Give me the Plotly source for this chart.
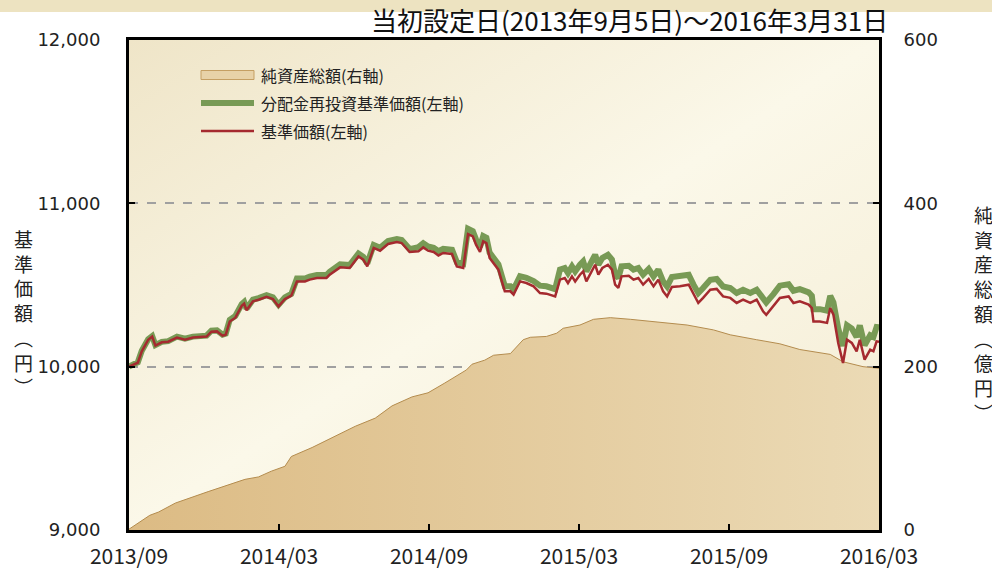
import base64
import pandas as pd
import plotly.graph_objects as go

# ---------------- data ----------------
nav_dates = [
    "2013-09-05","2013-09-16","2013-09-21","2013-09-29","2013-10-04","2013-10-08","2013-10-16","2013-10-24",
    "2013-11-04","2013-11-14","2013-11-24","2013-12-11","2013-12-17","2013-12-24","2013-12-31","2014-01-04",
    "2014-01-09","2014-01-16","2014-01-24","2014-01-27","2014-01-30","2014-02-07","2014-02-14","2014-02-24",
    "2014-03-04","2014-03-11","2014-03-19","2014-03-27","2014-04-03","2014-04-13","2014-04-19","2014-04-28",
    "2014-05-10","2014-05-14","2014-05-27","2014-06-08","2014-06-19","2014-06-25","2014-06-30","2014-07-08",
    "2014-07-16","2014-07-26","2014-08-06","2014-08-12","2014-08-22","2014-09-02","2014-09-08","2014-09-14",
    "2014-09-21","2014-09-27","2014-10-03","2014-10-14","2014-10-20","2014-10-28","2014-11-03","2014-11-09",
    "2014-11-13","2014-11-18","2014-11-22","2014-11-26","2014-11-30","2014-12-11","2014-12-19","2014-12-26",
    "2014-12-30","2015-01-07","2015-01-15","2015-01-24","2015-02-01","2015-02-09","2015-02-20","2015-02-26",
    "2015-03-04","2015-03-08","2015-03-13","2015-03-17","2015-03-23","2015-03-27","2015-03-31","2015-04-11",
    "2015-04-15","2015-04-20","2015-04-27","2015-05-02","2015-05-06","2015-05-10","2015-05-14","2015-05-23",
    "2015-05-29","2015-06-04","2015-06-10","2015-06-17","2015-06-23","2015-06-29","2015-07-05","2015-07-10",
    "2015-07-16","2015-07-26","2015-08-06","2015-08-12","2015-08-18","2015-08-24","2015-09-02","2015-09-10",
    "2015-09-18","2015-09-27","2015-10-05","2015-10-13","2015-10-22","2015-10-30","2015-11-07","2015-11-11",
    "2015-11-20","2015-11-28","2015-12-09","2015-12-15","2015-12-23","2016-01-03","2016-01-07","2016-01-09",
    "2016-01-17","2016-01-26","2016-01-30","2016-02-03","2016-02-09","2016-02-15","2016-02-20","2016-02-26",
    "2016-03-03","2016-03-07","2016-03-13","2016-03-20","2016-03-24","2016-03-28","2016-03-31",
]

# 基準価額 (left axis, yen)
nav_values = [
    10000,10024,10094,10165,10184,10129,10149,10153,10178,10165,10178,10184,10214,10216,10190,10196,
    10277,10300,10373,10386,10345,10400,10410,10427,10414,10369,10414,10435,10522,10522,10533,10543,
    10543,10563,10608,10604,10675,10655,10614,10727,10710,10751,10763,10757,10702,10706,10730,10710,
    10702,10681,10696,10690,10614,10604,10812,10798,10747,10702,10767,10757,10666,10594,10461,10461,
    10441,10522,10512,10492,10451,10447,10430,10533,10543,10512,10553,10522,10563,10583,10522,10624,
    10563,10604,10624,10594,10502,10482,10553,10557,10533,10543,10502,10537,10492,10533,10461,10430,
    10488,10492,10502,10441,10390,10421,10471,10476,10430,10421,10390,10410,10390,10410,10339,10318,
    10369,10421,10430,10390,10400,10380,10359,10277,10277,10268,10359,10318,10145,10022,10165,10145,
    10094,10165,10043,10104,10094,10155,10153,
]

# 分配金再投資基準価額 (left axis, yen)
reinvest_values = [
    10000,10027,10097,10168,10187,10132,10152,10156,10184,10171,10184,10190,10220,10222,10196,10202,
    10287,10310,10383,10396,10355,10410,10420,10437,10424,10379,10424,10445,10540,10540,10551,10561,
    10561,10581,10626,10622,10693,10673,10632,10745,10728,10769,10781,10775,10720,10732,10756,10736,
    10728,10707,10722,10716,10640,10630,10844,10830,10779,10734,10799,10789,10698,10626,10493,10493,
    10473,10554,10544,10524,10496,10492,10475,10594,10604,10573,10614,10583,10624,10644,10583,10685,
    10624,10665,10685,10655,10563,10543,10614,10618,10594,10604,10563,10598,10553,10594,10522,10491,
    10549,10553,10563,10502,10451,10482,10532,10537,10491,10482,10451,10471,10451,10471,10414,10393,
    10444,10496,10505,10465,10475,10455,10434,10352,10352,10343,10434,10393,10233,10127,10253,10233,
    10182,10253,10131,10192,10182,10243,10241,
]

# 純資産総額 (right axis, 億円)
asset_dates = [
    "2013-09-05","2013-10-01","2013-10-12","2013-11-02","2013-12-13","2014-01-11","2014-01-28","2014-02-14",
    "2014-03-02","2014-03-19","2014-03-27","2014-04-22","2014-05-17","2014-06-15","2014-07-10","2014-07-31",
    "2014-08-25","2014-09-14","2014-10-05","2014-11-01","2014-11-08","2014-11-24","2014-12-05","2014-12-26",
    "2015-01-11","2015-01-20","2015-02-09","2015-02-22","2015-03-02","2015-03-23","2015-04-09","2015-04-30",
    "2015-05-25","2015-06-23","2015-08-04","2015-09-06","2015-09-27","2015-10-30","2015-11-28","2015-12-23",
    "2016-01-30","2016-02-15","2016-03-11","2016-03-31",
]
asset_values = [
    1,18,22,33,47,56,62,65,
    72,78,90,101,113,127,137,152,
    163,168,180,196,203,208,214,216,
    233,236,237,241,247,251,258,260,
    258,255,251,245,239,233,228,221,
    215,206,200,198,
]

x_tick_labels = ["2013/09", "2014/03", "2014/09", "2015/03", "2015/09", "2016/03"]
left_ticks = [9000, 10000, 11000, 12000]
right_ticks = [0, 200, 400, 600]

series_names = ["純資産総額(右軸)", "分配金再投資基準価額(左軸)", "基準価額(左軸)"]
title_text = "当初設定日(2013年9月5日)～2016年3月31日"
left_title_chars = ["基", "準", "価", "額", "︵", "円", "︶"]
right_title_chars = ["純", "資", "産", "総", "額", "︵", "億", "円", "︶"]

assert len(nav_dates) == len(nav_values) == len(reinvest_values)
assert len(asset_dates) == len(asset_values)

# ---------------- layout geometry (px) ----------------
W, H = 992, 570
ML, MR, MT, MB = 129, 113, 40, 40
PW, PH = W - ML - MR, H - MT - MB


def px_x(x):
    return (x - ML) / PW


def px_y(y):
    return (H - MB - y) / PH


CJK = "Noto Sans CJK JP, Noto Sans, sans-serif"
AREA_LINE = "#b48c4e"
GREEN = "#789a55"
RED = "#a52a2f"

fig = go.Figure()

fig.add_trace(go.Scatter(
    x=asset_dates, y=asset_values, yaxis="y", mode="lines", name=series_names[0],
    fill="tozeroy",
    fillgradient=dict(type="horizontal", colorscale=[[0, "#dcbb84"], [1, "#ebdab5"]]),
    line=dict(color=AREA_LINE, width=1), hoverinfo="skip", showlegend=False,
))
fig.add_trace(go.Scatter(
    x=nav_dates, y=reinvest_values, yaxis="y2", mode="lines", name=series_names[1],
    line=dict(color=GREEN, width=6), showlegend=False,
))
fig.add_trace(go.Scatter(
    x=nav_dates, y=nav_values, yaxis="y2", mode="lines", name=series_names[2],
    line=dict(color=RED, width=2.5), showlegend=False,
))

tick_positions = pd.date_range(nav_dates[0], nav_dates[-1], periods=len(x_tick_labels))

svg = (
    '<svg xmlns="http://www.w3.org/2000/svg" width="750" height="490" preserveAspectRatio="none">'
    '<defs><linearGradient id="g" x1="0" y1="0" x2="1" y2="1">'
    '<stop offset="0" stop-color="#efe5c8"/>'
    '<stop offset="0.5" stop-color="#fbf8e9"/>'
    '<stop offset="1" stop-color="#f4ecd3"/>'
    '</linearGradient></defs>'
    '<rect width="750" height="490" fill="url(#g)"/></svg>'
)
bg_uri = "data:image/svg+xml;base64," + base64.b64encode(svg.encode()).decode()

# ---------------- legend (drawn manually for the swatch shapes) ----------------
legend_rows_y = [75, 103, 131]
sw_x0, sw_x1, txt_x = 201, 254, 259
shapes = [
    dict(type="rect", xref="paper", yref="paper",
         x0=px_x(0), x1=px_x(W), y0=px_y(12), y1=px_y(0),
         fillcolor="#ede3c1", line=dict(width=0), layer="below"),
    dict(type="rect", xref="paper", yref="paper",
         x0=px_x(sw_x0), x1=px_x(sw_x1), y0=px_y(legend_rows_y[0] + 4.5), y1=px_y(legend_rows_y[0] - 4.5),
         fillcolor="#e8d2a8", line=dict(color="#c59f63", width=1)),
    dict(type="line", xref="paper", yref="paper",
         x0=px_x(sw_x0), x1=px_x(sw_x1), y0=px_y(legend_rows_y[1]), y1=px_y(legend_rows_y[1]),
         line=dict(color=GREEN, width=6)),
    dict(type="line", xref="paper", yref="paper",
         x0=px_x(sw_x0), x1=px_x(sw_x1), y0=px_y(legend_rows_y[2]), y1=px_y(legend_rows_y[2]),
         line=dict(color=RED, width=2.5)),
]

annotations = [dict(
    text=title_text, x=px_x(890), y=px_y(20), xref="paper", yref="paper",
    xanchor="right", yanchor="middle", showarrow=False,
    font=dict(family=CJK, size=26, color="#111"),
)]
for name, yy in zip(series_names, legend_rows_y):
    annotations.append(dict(text=name, x=px_x(txt_x), y=px_y(yy), xref="paper", yref="paper",
                            xanchor="left", yanchor="middle", showarrow=False,
                            font=dict(family=CJK, size=16, color="#222")))
annotations.append(dict(text="<br>".join(left_title_chars), x=px_x(23), y=px_y(312),
                        xref="paper", yref="paper", xanchor="center", yanchor="middle",
                        showarrow=False, font=dict(family=CJK, size=19, color="#222")))
annotations.append(dict(text="<br>".join(right_title_chars), x=px_x(984), y=px_y(313),
                        xref="paper", yref="paper", xanchor="center", yanchor="middle",
                        showarrow=False, font=dict(family=CJK, size=19, color="#222")))

fig.update_layout(
    width=W, height=H,
    margin=dict(l=ML, r=MR, t=MT, b=MB, autoexpand=False),
    paper_bgcolor="white",
    plot_bgcolor="rgba(0,0,0,0)",
    showlegend=False,
    xaxis=dict(
        type="date", range=[nav_dates[0], nav_dates[-1]],
        tickvals=tick_positions, ticktext=x_tick_labels,
        ticks="inside", ticklen=6, tickwidth=2, tickcolor="black",
        showline=True, linewidth=3, linecolor="black", mirror=True,
        showgrid=False, zeroline=False,
        tickfont=dict(family=CJK, size=21, color="#222"),
        ticklabelstandoff=6,
    ),
    yaxis=dict(
        side="right", range=[0, 600], tickvals=right_ticks,
        ticks="inside", ticklen=6, tickwidth=2, tickcolor="black",
        showline=True, linewidth=3, linecolor="black",
        showgrid=False, zeroline=False,
        tickfont=dict(family="DejaVu Sans", size=18, color="#222"),
        ticklabelstandoff=18,
    ),
    yaxis2=dict(
        overlaying="y", side="left", range=[9000, 12000], tickvals=left_ticks,
        tickformat=",",
        ticks="inside", ticklen=6, tickwidth=2, tickcolor="black",
        showline=True, linewidth=3, linecolor="black",
        showgrid=True, gridcolor="#a0a0a0", gridwidth=1.5, griddash="dash",
        zeroline=False,
        tickfont=dict(family="DejaVu Sans", size=18, color="#222"),
        ticklabelstandoff=22,
    ),
    images=[dict(source=bg_uri, xref="paper", yref="paper", x=0, y=1, sizex=1, sizey=1,
                 xanchor="left", yanchor="top", sizing="stretch", layer="below")],
    shapes=shapes,
    annotations=annotations,
)

fig.write_html(
    "out.html",
    config={"displayModeBar": False},
    post_script="document.body.style.margin='0';document.body.style.padding='0';"
                "document.body.style.overflow='hidden';",
)
